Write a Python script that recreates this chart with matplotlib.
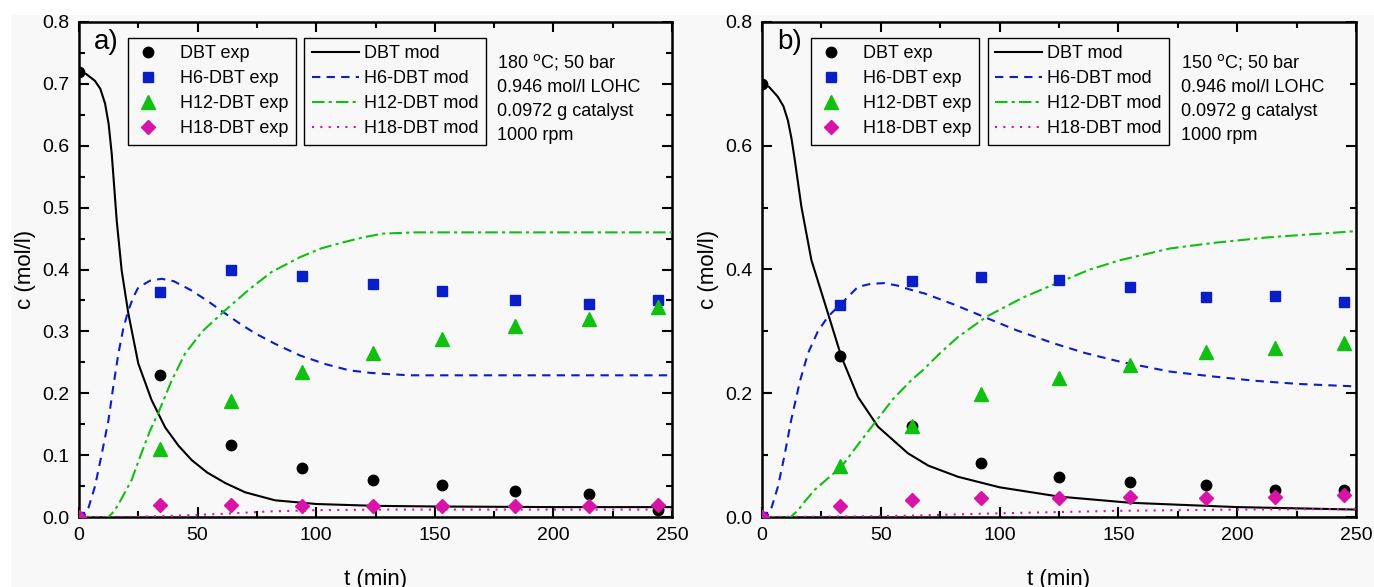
import matplotlib
matplotlib.use('Agg')
import matplotlib.pyplot as plt
import matplotlib.ticker as plticker
from matplotlib.lines import Line2D
from matplotlib.patches import Rectangle

plt.rcParams['font.family'] = ['Liberation Sans', 'DejaVu Sans']

# experimental sampling times (min)
t_exp_a = [0, 34, 64, 94, 124, 153, 184, 215, 244]
t_exp_b = [0, 33, 63, 92, 125, 155, 187, 216, 245]

# panel a) 180 C experimental data
dbt_exp_a = [0.72, 0.230, 0.117, 0.079, 0.060, 0.051, 0.042, 0.037, 0.012]
h6_exp_a = [0.0, 0.363, 0.399, 0.390, 0.376, 0.365, 0.351, 0.345, 0.350]
h12_exp_a = [0.0, 0.110, 0.187, 0.234, 0.265, 0.287, 0.309, 0.320, 0.339]
h18_exp_a = [0.0, 0.019, 0.019, 0.017, 0.018, 0.017, 0.018, 0.018, 0.019]

# panel a) model curves
t_dbt_a = [0, 3, 6.7, 9, 11, 12.5, 13.8, 15.9, 18, 20.8, 25, 30.6, 36.3, 42, 47.5, 54, 61.6,
           70, 82.6, 100, 125, 150, 200, 250]
dbt_mod_a = [0.72, 0.716, 0.705, 0.692, 0.668, 0.635, 0.587, 0.479, 0.398, 0.329, 0.248,
             0.189, 0.145, 0.115, 0.092, 0.072, 0.055, 0.040, 0.027, 0.021, 0.018, 0.017,
             0.016, 0.016]
t_h6_a = [0, 2, 4, 6.7, 9.5, 12.4, 14.5, 16.6, 18.7, 20.8, 23, 25, 30, 34.9, 40, 47.5, 55,
          61.6, 68, 74.2, 82.6, 93.2, 104, 114, 122.7, 130, 139.5, 150, 250]
h6_mod_a = [0.0, 0.0, 0.015, 0.049, 0.10, 0.156, 0.212, 0.264, 0.305, 0.334, 0.356, 0.371,
            0.382, 0.385, 0.381, 0.366, 0.347, 0.329, 0.312, 0.297, 0.280, 0.261, 0.247,
            0.237, 0.233, 0.231, 0.229, 0.229, 0.229]
t_h12_a = [0, 12.4, 15, 18, 22.2, 26, 30, 33.4, 39, 44.7, 52, 61.6, 72.1, 81.2, 93.2, 102,
           111.4, 120, 128, 142, 160, 250]
h12_mod_a = [0.0, 0.0, 0.01, 0.03, 0.06, 0.10, 0.14, 0.168, 0.22, 0.264, 0.30, 0.334, 0.369,
             0.396, 0.42, 0.434, 0.444, 0.452, 0.458, 0.46, 0.46, 0.46]
t_h18_a = [0, 20, 40, 60, 80, 100, 130, 250]
h18_mod_a = [0.0, 0.0, 0.002, 0.005, 0.009, 0.011, 0.012, 0.012]

# panel b) 150 C experimental data
dbt_exp_b = [0.70, 0.261, 0.147, 0.088, 0.064, 0.056, 0.051, 0.044, 0.044]
h6_exp_b = [0.0, 0.343, 0.381, 0.388, 0.383, 0.371, 0.355, 0.357, 0.348]
h12_exp_b = [0.0, 0.083, 0.147, 0.198, 0.225, 0.245, 0.267, 0.273, 0.281]
h18_exp_b = [0.0, 0.017, 0.028, 0.030, 0.031, 0.032, 0.031, 0.032, 0.035]

# panel b) model curves
t_dbt_b = [0, 3, 6.7, 9, 10.9, 12.4, 13.8, 16.6, 20.8, 26.4, 33.4, 40.4, 48.8, 61.4, 70,
           82.5, 100, 125, 155, 200, 250]
dbt_mod_b = [0.70, 0.695, 0.679, 0.664, 0.641, 0.612, 0.577, 0.501, 0.415, 0.346, 0.259,
             0.194, 0.146, 0.103, 0.083, 0.065, 0.048, 0.033, 0.023, 0.016, 0.012]
t_h6_b = [0, 2, 4, 6.7, 9.5, 12.3, 16, 19.4, 23.5, 27.8, 33.4, 40.4, 46, 51.6, 57, 62.8,
          68.6, 81.1, 93.1, 107, 122.5, 136, 150.7, 171.7, 190, 208, 226, 250]
h6_mod_b = [0.0, 0.0, 0.015, 0.049, 0.10, 0.157, 0.22, 0.265, 0.30, 0.324, 0.345, 0.372,
            0.377, 0.378, 0.374, 0.367, 0.361, 0.343, 0.324, 0.302, 0.281, 0.265, 0.251,
            0.235, 0.227, 0.220, 0.215, 0.211]
t_h12_b = [0, 12, 15, 18, 22.2, 27, 33.4, 40, 48.8, 55, 62.8, 67.9, 75, 82.5, 94.6, 110,
           125.4, 138, 150.7, 171.7, 190, 213, 250]
h12_mod_b = [0.0, 0.0, 0.01, 0.025, 0.044, 0.06, 0.081, 0.115, 0.159, 0.19, 0.221, 0.238,
             0.265, 0.291, 0.324, 0.355, 0.38, 0.40, 0.415, 0.434, 0.443, 0.452, 0.462]
t_h18_b = [0, 40, 60, 80, 100, 125, 150, 200, 250]
h18_mod_b = [0.0, 0.001, 0.002, 0.004, 0.006, 0.008, 0.010, 0.012, 0.013]

blue = '#0a1ec8'
green = '#10c010'
magenta = '#d814a8'

fig = plt.figure(figsize=(13.74, 5.87), dpi=100, facecolor='white')
fig.patches.append(Rectangle((11 / 1374, 0), 1, 1 - 15 / 587, transform=fig.transFigure,
                             facecolor='#f8f8f8', edgecolor='none', zorder=-10))

ax1 = fig.add_axes([79 / 1374, 70 / 587, 593 / 1374, 495 / 587])
ax2 = fig.add_axes([762 / 1374, 70 / 587, 594 / 1374, 495 / 587])

panels = [
    (ax1, 'a)', t_exp_a, dbt_exp_a, h6_exp_a, h12_exp_a, h18_exp_a,
     t_dbt_a, dbt_mod_a, t_h6_a, h6_mod_a, t_h12_a, h12_mod_a, t_h18_a, h18_mod_a,
     0.1, 0.05, '180 $^{\\rm o}$C; 50 bar'),
    (ax2, 'b)', t_exp_b, dbt_exp_b, h6_exp_b, h12_exp_b, h18_exp_b,
     t_dbt_b, dbt_mod_b, t_h6_b, h6_mod_b, t_h12_b, h12_mod_b, t_h18_b, h18_mod_b,
     0.2, 0.1, '150 $^{\\rm o}$C; 50 bar'),
]

dash = (0, (4, 3))
dashdot = (0, (6, 2, 1.5, 2))
dots = (0, (1, 3))

for (ax, tag, te, de, h6e, h12e, h18e, td, dm, t6, h6m, t12, h12m, t18, h18m,
     ymaj, ymin, cond) in panels:
    ax.set_facecolor('#f8f8f8')
    ax.plot(td, dm, color='black', lw=1.5, zorder=3)
    ax.plot(t6, h6m, color=blue, lw=1.5, ls=dash, zorder=3)
    ax.plot(t12, h12m, color=green, lw=1.5, ls=dashdot, zorder=3)
    ax.plot(t18, h18m, color=magenta, lw=1.5, ls=dots, zorder=3)
    ax.plot(te, de, 'o', color='black', ms=7.5, zorder=4)
    ax.plot(te, h6e, 's', color=blue, ms=6.5, zorder=4)
    ax.plot(te, h12e, '^', color=green, ms=10, zorder=4)
    ax.plot(te, h18e, 'D', color=magenta, ms=7, zorder=4)

    ax.set_xlim(0, 250)
    ax.set_ylim(0, 0.8)
    ax.xaxis.set_major_locator(plticker.MultipleLocator(50))
    ax.xaxis.set_minor_locator(plticker.MultipleLocator(25))
    ax.yaxis.set_major_locator(plticker.MultipleLocator(ymaj))
    ax.yaxis.set_minor_locator(plticker.MultipleLocator(ymin))
    ax.yaxis.set_major_formatter(plticker.FormatStrFormatter('%.1f'))
    ax.tick_params(which='both', direction='in', top=True, right=True, width=1.5,
                   labelsize=14)
    ax.tick_params(which='major', length=7, pad=7)
    ax.tick_params(which='minor', length=4)
    for s in ax.spines.values():
        s.set_linewidth(1.8)
    ax.set_xlabel('t (min)', fontsize=16, labelpad=18)
    ax.set_ylabel('c (mol/l)', fontsize=16, labelpad=4)

    ax.text(0.025, 0.985, tag, transform=ax.transAxes, fontsize=20, va='top', ha='left')

    exp_handles = [
        Line2D([], [], ls='none', marker='o', color='black', ms=7.5),
        Line2D([], [], ls='none', marker='s', color=blue, ms=6.5),
        Line2D([], [], ls='none', marker='^', color=green, ms=10),
        Line2D([], [], ls='none', marker='D', color=magenta, ms=7),
    ]
    mod_handles = [
        Line2D([], [], color='black', lw=1.5),
        Line2D([], [], color=blue, lw=1.5, ls=dash),
        Line2D([], [], color=green, lw=1.5, ls=dashdot),
        Line2D([], [], color=magenta, lw=1.5, ls=dots),
    ]
    leg1 = ax.legend(exp_handles, ['DBT exp', 'H6-DBT exp', 'H12-DBT exp', 'H18-DBT exp'],
                     loc='upper left', bbox_to_anchor=(0.082, 0.968), fontsize=13,
                     frameon=True, fancybox=False, edgecolor='black', framealpha=1,
                     facecolor='#f8f8f8', handlelength=1.5, handletextpad=1.0,
                     labelspacing=0.45, borderpad=0.4, borderaxespad=0)
    leg1.get_frame().set_linewidth(1.0)
    ax.add_artist(leg1)
    leg2 = ax.legend(mod_handles, ['DBT mod', 'H6-DBT mod', 'H12-DBT mod', 'H18-DBT mod'],
                     loc='upper left', bbox_to_anchor=(0.38, 0.968), fontsize=13,
                     frameon=True, fancybox=False, edgecolor='black', framealpha=1,
                     facecolor='#f8f8f8', handlelength=2.6, handletextpad=0.3,
                     labelspacing=0.45, borderpad=0.4, borderaxespad=0)
    leg2.get_frame().set_linewidth(1.0)

    ax.text(0.705, 0.94, cond + '\n0.946 mol/l LOHC\n0.0972 g catalyst\n1000 rpm',
            transform=ax.transAxes, fontsize=13, va='top', ha='left', linespacing=1.55)

fig.savefig('out.png', dpi=100, facecolor=fig.get_facecolor())
